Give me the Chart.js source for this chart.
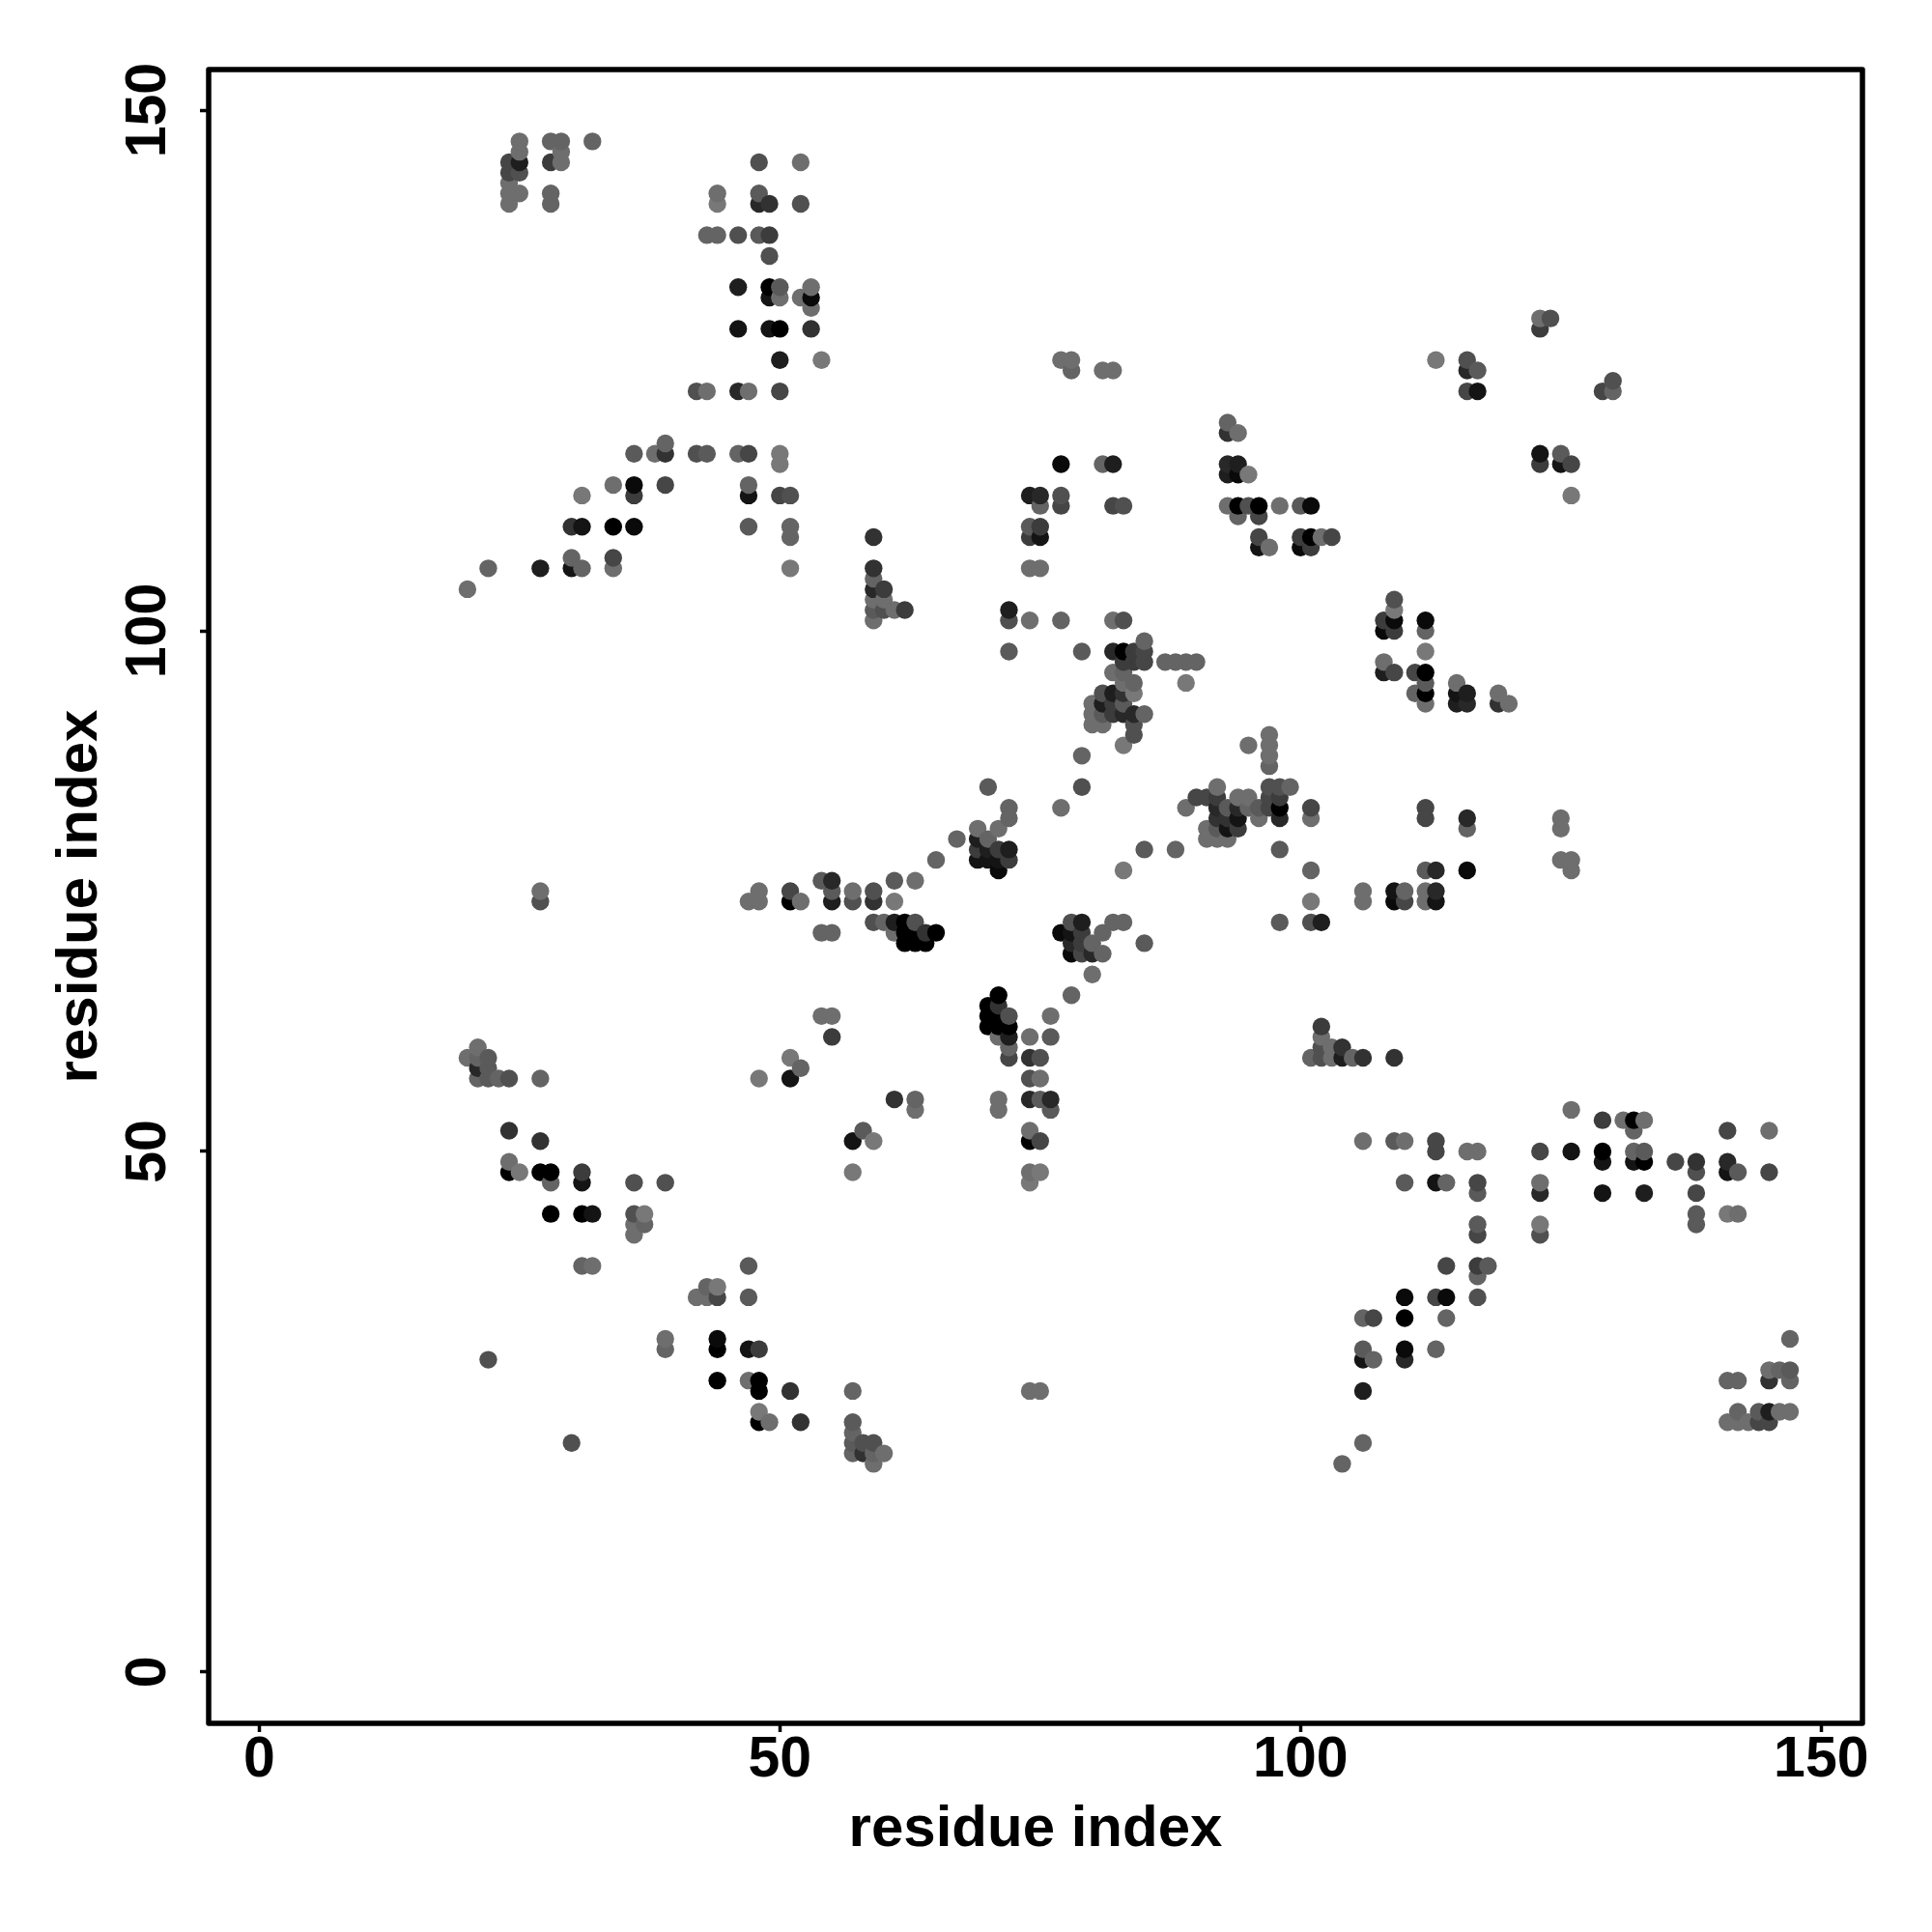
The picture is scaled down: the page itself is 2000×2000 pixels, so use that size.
<!DOCTYPE html>
<html>
<head>
<meta charset="utf-8">
<style>
  html, body { margin: 0; background: #fff; }
  canvas { display: block; }
</style>
<script src="https://cdn.jsdelivr.net/npm/chart.js@4/dist/chart.umd.min.js"></script>
</head>
<body>
<canvas id="contactMap" width="2000" height="2000"></canvas>
<script>
const tickValues = [0, 50, 100, 150];
const axisName = 'residue index';

// One line per row of the map, the three lists stay in step
const contactX = [
  25,28,29,32, 25,29, 24,25,28,29,48,52, 24,25, 24, 24,25,28,44,48, 24,28,44,48,49,52,
  43,44,46,48,49, 49, 46,49,50,53, 49,50,52,53, 53, 123,124, 46,49,50,53,123,
  50,54,113,116, 116,117, 130, 42,43,46,47,50,116,117,129,130, 93, 93,94, 39,
  36,38,39,42,43,46,47,50,123,125, 50,93,94,123,125,126, 93,94,95, 34,36,39,47,
  31,36,47,50,51,126, 93,94,95,96,98,100,101, 94,96, 30,31,34,36,47,51,
  51,59,96,100,101,102,103, 96,97,100,101, 30,34, 22,27,30,31,34,51,59, 59, 20,59,60,
  59,60,109, 59,60,61,62,72,109, 59,72,74,77,82,83,108,109,112, 108,109,112, 85,
  72,79,82,83,84,85,112, 83,84,85,87,88,89,90,108, 82,83,108,109,111,112, 83,84,89,112,115,
  81,82,83,84,111,112,115,116,119, 80,81,82,83,112,115,116,119,120, 80,81,82,83,84,85,
  80,81,84, 84,97, 83,95,97, 79,97, 97, 70,79,92,97,98,99, 90,91,92,94,95,97,98,
  72,77,89,92,93,94,95,96,97,98,101,112, 72,92,93,94,96,98,101,112,116,125,
  69,71,91,92,93,94,116,125, 67,69,70,91,92,93, 69,70,71,72,85,88,98,
  65,69,70,71,72,125,126, 71,83,101,112,113,116,126, 54,55,61,63,
  27,48,51,55,57,59,106,109,110,112,113, 27,47,48,51,52,55,57,59,61,101,106,109,110,112,113,
  59,60,61,62,63,78,79,82,83,98,101,102, 54,55,61,62,63,64,65,77,78,79,81,
  62,63,64,78,79,80,85, 78,79,80,81, 80, 71,78, 70,71, 54,55,70,71,72,76, 70,71,72,102,
  55,71,72,74,76,102, 21,72,102,103,104, 20,21,22,51,72,74,75,101,102,103,104,105,106,109,
  21,22,52, 21,22,23,24,27,48,51,74,75, 61,63,71,74,75,76, 63,71,76,126, 129,131,132,133,
  24,58,74,132,141,145, 27,57,59,74,75,106,109,110,113, 113,116,117,123,126,129,132,133,
  24,129,132,133,136,138,141, 24,25,27,28,31,57,74,75,138,141,142,145,
  28,31,36,39,74,110,113,114,117,123, 117,123,129,133,138, 28,31,32,36,37,138,141,142,
  36,37,117,123,138, 36,117,123, 31,32,47,114,117,118, 117, 43,44, 42,43,44,47,110,113,114,117,
  106,107,110,114, 39,44,147, 39,44,47,48,106,110,113, 22,106,107,110, 145,146,147,
  44,47,48,141,142,145,147, 48,51,57,74,75,106, 48,142,144,145,146,147,
  48,49,52,57,141,142,143,144,145, 57, 30,57,58,59,106, 57,58,59,60, 59,104,
  77,78, 78,81,82, 77,81,82, 74,75,77, 75,77,82,83, 74,75, 74,75, 74,75
];
const contactY = [
  147,147,147,147, 146,146, 145,145,145,145,145,145, 144,144, 143, 142,142,142,142,142, 141,141,141,141,141,141,
  138,138,138,138,138, 136, 133,133,133,133, 132,132,132,132, 131, 130,130, 129,129,129,129,129,
  126,126,126,126, 125,125, 124, 123,123,123,123,123,123,123,123,123, 120, 119,119, 118,
  117,117,117,117,117,117,117,117,117,117, 116,116,116,116,116,116, 115,115,115, 114,114,114,114,
  113,113,113,113,113,113, 112,112,112,112,112,112,112, 111,111, 110,110,110,110,110,110,
  109,109,109,109,109,109,109, 108,108,108,108, 107,107, 106,106,106,106,106,106,106, 105, 104,104,104,
  103,103,103, 102,102,102,102,102,102, 101,101,101,101,101,101,101,101,101, 100,100,100, 99,
  98,98,98,98,98,98,98, 97,97,97,97,97,97,97,97, 96,96,96,96,96,96, 95,95,95,95,95,
  94,94,94,94,94,94,94,94,94, 93,93,93,93,93,93,93,93,93, 92,92,92,92,92,92,
  91,91,91, 90,90, 89,89,89, 88,88, 87, 85,85,85,85,85,85, 84,84,84,84,84,84,84,
  83,83,83,83,83,83,83,83,83,83,83,83, 82,82,82,82,82,82,82,82,82,82,
  81,81,81,81,81,81,81,81, 80,80,80,80,80,80, 79,79,79,79,79,79,79,
  78,78,78,78,78,78,78, 77,77,77,77,77,77,77, 76,76,76,76,
  75,75,75,75,75,75,75,75,75,75,75, 74,74,74,74,74,74,74,74,74,74,74,74,74,74,74,
  72,72,72,72,72,72,72,72,72,72,72,72, 71,71,71,71,71,71,71,71,71,71,71,
  70,70,70,70,70,70,70, 69,69,69,69, 67, 65,65, 64,64, 63,63,63,63,63,63, 62,62,62,62,
  61,61,61,61,61,61, 60,60,60,60,60, 59,59,59,59,59,59,59,59,59,59,59,59,59,59,
  58,58,58, 57,57,57,57,57,57,57,57,57, 55,55,55,55,55,55, 54,54,54,54, 53,53,53,53,
  52,52,52,52,52,52, 51,51,51,51,51,51,51,51,51, 50,50,50,50,50,50,50,50,
  49,49,49,49,49,49,49, 48,48,48,48,48,48,48,48,48,48,48,48,
  47,47,47,47,47,47,47,47,47,47, 46,46,46,46,46, 44,44,44,44,44,44,44,44,
  43,43,43,43,43, 42,42,42, 39,39,39,39,39,39, 38, 37,37, 36,36,36,36,36,36,36,36,
  34,34,34,34, 32,32,32, 31,31,31,31,31,31,31, 30,30,30,30, 29,29,29,
  28,28,28,28,28,28,28, 27,27,27,27,27,27, 25,25,25,25,25,25,
  24,24,24,24,24,24,24,24,24, 23, 22,22,22,22,22, 21,21,21,21, 20,20,
  126,126, 125,125,125, 116,116,116, 113,113,113, 112,112,112,112, 110,110, 109,109, 106,106
];
// Read as darkness of the dot: 0 is the palest gray, 12 is black
const contactDepth = [
  1,2,2,2, 1,1, 5,9,6,1,4,1, 5,4, 1, 1,1,2,1,3, 1,2,0,8,7,4,
  2,2,4,3,6, 4, 9,12,3,1, 10,1,1,11, 1, 1,4, 10,10,12,7,6,
  9,0,0,4, 8,3, 4, 4,1,8,1,5,5,10,5,2, 2, 7,1, 2,
  3,1,7,4,3,2,5,0,10,3, 0,8,9,6,10,5, 9,11,0, 1,11,5,2,
  0,6,10,5,4,0, 1,12,4,12,1,3,11, 2,5, 7,10,12,11,3,2,
  2,7,5,6,12,1,5, 10,1,11,6, 2,5, 2,9,10,2,1,0,7, 2, 1,8,6,
  1,1,4, 3,4,1,6,9,0, 1,4,1,2,1,4,6,11,11, 11,6,2, 2,
  3,3,8,12,6,5,0, 6,6,5,2,2,2,2,1, 1,2,9,5,5,12, 1,2,0,3,1,
  4,9,7,0,2,12,10,9,1, 1,9,6,3,1,9,8,7,1, 1,3,6,8,8,2,
  1,1,4, 4,1, 0,1,1, 2,1, 2, 3,4,1,4,4,2, 5,5,6,1,1,5,6,
  2,1,1,8,3,8,2,3,5,12,5,5, 2,7,7,10,1,8,1,5,8,1,
  1,1,1,3,10,6,2,1, 2,9,2,1,1,1, 6,9,6,9,3,2,3,
  2,10,10,10,6,1,1, 11,0,2,3,8,11,1, 3,8,3,1,
  1,1,5,3,1,4,1,10,2,1,8, 4,1,1,12,1,9,4,7,0,0,1,11,5,1,10,
  4,2,9,12,4,4,9,2,2,3,4,9, 2,2,1,12,12,7,12,11,10,6,2,
  12,12,12,8,6,2,3, 11,5,8,2, 1, 12,2, 12,7, 1,1,12,12,4,1, 12,12,12,6,
  6,1,9,1,3,1, 1,2,4,1,7, 1,2,3,0,5,7,4,2,4,1,9,2,7,7,
  8,3,2, 2,3,2,4,2,0,10,4,1, 7,2,1,8,3,8, 1,1,3,1, 6,1,12,1,
  7,3,1,2,5,1, 7,10,0,12,5,1,3,1,5, 5,1,1,5,10,12,2,3,
  1,10,10,12,5,7,8, 12,0,12,12,6,0,1,0,4,10,3,5,
  2,10,4,4,0,3,10,2,5,1, 3,8,10,9,5, 12,12,10,4,0,3,0,1,
  1,2,3,0,3, 1,5,4, 2,1,3,5,6,3, 2, 2,0, 1,1,5,3,11,5,11,4,
  2,5,12,2, 1,11,2, 2,12,10,6,3,11,2, 4,10,2,8, 1,2,3,
  12,1,12,2,2,7,2, 12,7,2,1,1,9, 0,2,3,9,1,1,
  12,1,7,3,1,1,1,5,5, 2, 4,3,4,4,2, 2,7,2,1, 1,2,
  1,1, 2,1,1, 11,2,9, 9,8,4, 2,5,5,4, 3,6, 6,10, 1,1
];

if (contactX.length !== contactY.length || contactX.length !== contactDepth.length) {
    console.error('contact lists differ', contactX.length, contactY.length, contactDepth.length);
}

function depthColor(depth) {
    const g = (12 - depth) * 10;
    return `rgb(${g},${g},${g})`;
}

// Later residues paint over earlier ones, the same way the picture stacks
const drawOrder = contactX.map((_, i) => i).sort((a, b) => contactX[a] - contactX[b] || contactY[a] - contactY[b]);

const tickFont = { family: '"Liberation Sans", Arial, sans-serif', size: 59, weight: 'bold' };
const titleFont = { family: '"Liberation Sans", Arial, sans-serif', size: 60, weight: 'bold' };

// Box around the plot area
const frameBox = {
    id: 'frameBox',
    afterDatasetsDraw(chart) {
        const { ctx, chartArea: a } = chart;
        ctx.save();
        ctx.strokeStyle = '#000';
        ctx.lineWidth = 5.5;
        ctx.lineJoin = 'round';
        ctx.strokeRect(a.left, a.top, a.right - a.left, a.bottom - a.top);
        ctx.restore();
    }
};

function fixedTicks(scale) {
    scale.ticks = tickValues.map(v => ({ value: v }));
}

const axisGrid = { drawOnChartArea: false, drawTicks: true, tickLength: 9, tickWidth: 3.5, tickColor: '#000' };

new Chart(document.getElementById('contactMap').getContext('2d'), {
    type: 'scatter',
    data: {
        datasets: [{
            data: drawOrder.map(i => ({ x: contactX[i], y: contactY[i] })),
            backgroundColor: drawOrder.map(i => depthColor(contactDepth[i])),
            borderWidth: 0,
            pointRadius: 9.2,
            pointHoverRadius: 9.2
        }]
    },
    plugins: [frameBox],
    options: {
        responsive: false,
        animation: false,
        layout: { padding: { top: 72, right: 72 } },
        plugins: { legend: { display: false }, tooltip: { enabled: false } },
        scales: {
            x: {
                type: 'linear',
                min: -4.85,
                max: 153.96,
                afterBuildTicks: fixedTicks,
                afterFit(scale) { scale.height = 216; },
                border: { display: false },
                grid: axisGrid,
                ticks: {
                    color: '#000',
                    font: tickFont,
                    padding: -6,
                    maxRotation: 0,
                    autoSkip: false
                },
                title: {
                    display: true,
                    text: axisName,
                    color: '#000',
                    font: titleFont,
                    padding: { top: 0, bottom: 70 }
                }
            },
            y: {
                type: 'linear',
                min: -4.92,
                max: 153.9,
                afterBuildTicks: fixedTicks,
                afterFit(scale) { scale.width = 216; },
                border: { display: false },
                grid: axisGrid,
                ticks: {
                    color: '#000',
                    font: tickFont,
                    padding: 3,
                    minRotation: 90,
                    maxRotation: 90,
                    crossAlign: 'center',
                    autoSkip: false
                },
                title: {
                    display: true,
                    text: axisName,
                    color: '#000',
                    font: titleFont,
                    padding: { top: 47, bottom: 0 }
                }
            }
        }
    }
});
</script>
</body>
</html>
